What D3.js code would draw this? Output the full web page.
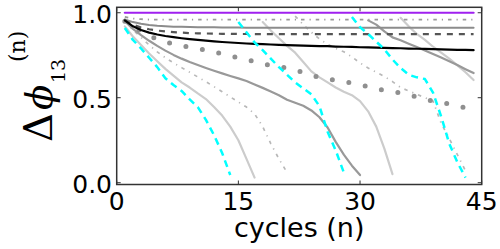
<!DOCTYPE html>
<html><head><meta charset="utf-8">
<script src="https://cdn.jsdelivr.net/npm/d3@7"></script>
<style>html,body{margin:0;padding:0;background:#fff;}svg{display:block}</style>
</head><body><svg id="c" width="500" height="249"></svg>
<script>
// ---- data ----
const xTicks = [0, 15, 30, 45];
const xTickLabels = ["0", "15", "30", "45"];
const yTicks = [0, 0.5, 1.0];
const yTickLabels = ["0.0", "0.5", "1.0"];

// each series: first cycle index + values at consecutive integer cycles
const purpleStart = 1;
const purpleVals = [1,1,1,1,1,1,1,1,1,1,1,1,1,1,1,1,1,1,1,1,1,1,1,1,1,1,1,1,1,1,1,1,1,1,1,1,1,1,1,1,1,1,1,1];
const dashDotStart = 1;
const dashDotVals = [0.975,0.966,0.962,0.96,0.96,0.959,0.959,0.959,0.959,0.959,0.959,0.959,0.959,0.959,0.959,0.959,0.959,0.959,0.959,0.959,0.959,0.959,0.959,0.959,0.959,0.959,0.959,0.959,0.959,0.959,0.959,0.959,0.959,0.959,0.959,0.959,0.959,0.959,0.959,0.959,0.959,0.959,0.959,0.959];
const graySolidStart = 1;
const graySolidVals = [0.96,0.945,0.935,0.928,0.923,0.92,0.918,0.917,0.916,0.915,0.914,0.914,0.913,0.913,0.913,0.912,0.912,0.912,0.912,0.912,0.912,0.912,0.912,0.912,0.912,0.912,0.912,0.912,0.912,0.912,0.912,0.912,0.912,0.912,0.912,0.912,0.912,0.912,0.912,0.912,0.912,0.912,0.912,0.912];
const darkDashStart = 1;
const darkDashVals = [0.955,0.93,0.913,0.903,0.895,0.89,0.886,0.883,0.88,0.879,0.878,0.877,0.876,0.876,0.875,0.875,0.874,0.874,0.874,0.874,0.874,0.874,0.874,0.874,0.874,0.874,0.874,0.874,0.874,0.874,0.874,0.874,0.874,0.874,0.874,0.874,0.874,0.874,0.874,0.874,0.874,0.874,0.874,0.874];
const blackStart = 1;
const blackVals = [0.955,0.92,0.898,0.883,0.872,0.863,0.856,0.85,0.845,0.84,0.836,0.832,0.828,0.825,0.822,0.819,0.817,0.815,0.813,0.811,0.81,0.808,0.807,0.805,0.804,0.803,0.801,0.8,0.799,0.797,0.796,0.795,0.793,0.792,0.791,0.789,0.788,0.787,0.786,0.784,0.783,0.782,0.781,0.78];
const bigDotStart = 1;
const bigDotVals = [0.95,0.92,0.89,0.865,0.845,0.828,0.815,0.805,0.797,0.788,0.78,0.77,0.758,0.745,0.735,0.725,0.712,0.7,0.69,0.683,0.675,0.662,0.648,0.633,0.62,0.61,0.603,0.595,0.587,0.577,0.565,0.552,0.543,0.535,0.528,0.516,0.505,0.492,0.48,0.472,0.463,0.453,0.44,0.418];
const midGrayAStart = 1;
const midGrayAVals = [0.95,0.905,0.868,0.835,0.805,0.777,0.752,0.73,0.71,0.692,0.675,0.659,0.643,0.628,0.614,0.598,0.578,0.558,0.537,0.515,0.488,0.47,0.453,0.425,0.385,0.325,0.24,0.165,0.1,0.045];
const midGrayBStart = 31;
const midGrayBVals = [0.955,0.93,0.89,0.855,0.838,0.818,0.798,0.778,0.757,0.737,0.715,0.692,0.668,0.645];
const lightAStart = 1;
const lightAVals = [0.92,0.86,0.81,0.76,0.715,0.67,0.63,0.59,0.56,0.525,0.492,0.445,0.395,0.33,0.25,0.14,0.03];
const lightBStart = 18;
const lightBVals = [0.945,0.895,0.85,0.805,0.765,0.71,0.655,0.62,0.59,0.56,0.535,0.515,0.48,0.42,0.33,0.2,0.05];
const lightCStart = 35;
const lightCVals = [0.97,0.92,0.875,0.84,0.8,0.765,0.73,0.69,0.65,0.604];
const lightDashDotAStart = 1;
const lightDashDotAVals = [0.95,0.9,0.855,0.81,0.77,0.735,0.705,0.677,0.65,0.622,0.594,0.565,0.535,0.505,0.475,0.445,0.405,0.33,0.23,0.14,0.06];
const lightDashDotBStart = 22;
const lightDashDotBVals = [0.98,0.93,0.885,0.845,0.815,0.79,0.77,0.74,0.705,0.675,0.65,0.625,0.595,0.56,0.54,0.52,0.5,0.48,0.35,0.26,0.165,0.07];
const cyanAStart = 1;
const cyanAVals = [0.91,0.84,0.79,0.735,0.68,0.615,0.575,0.54,0.49,0.445,0.37,0.28,0.175,0.045];
const cyanBStart = 15;
const cyanBVals = [0.945,0.885,0.825,0.78,0.73,0.68,0.635,0.59,0.555,0.52,0.45,0.3,0.19,0.06];
const cyanCStart = 29;
const cyanCVals = [0.975,0.915,0.875,0.83,0.785,0.725,0.675,0.635,0.62,0.61,0.53,0.39,0.23,0.12,0.03];

// ---- drawing ----
const svg = d3.select('#c');
const x = d3.scaleLinear().domain([0, 45]).range([116.7, 481.7]);
const y = d3.scaleLinear().domain([-0.0106, 1.032]).range([184.5, 7.3]);
const [x0, x1] = x.range();
const [yb, yt] = y.range();

svg.append('defs').append('clipPath').attr('id', 'clip')
  .append('rect').attr('x', x0).attr('y', yt).attr('width', x1 - x0).attr('height', yb - yt);

const line = d3.line().x(d => x(d[0])).y(d => y(d[1]));
const pts = (start, vals) => vals.map((v, i) => [start + i, v]);
const plot = svg.append('g').attr('clip-path', 'url(#clip)');

function draw(start, vals, color, width, dash, cap) {
  plot.append('path').datum(pts(start, vals))
    .attr('d', line).attr('fill', 'none')
    .attr('stroke', color).attr('stroke-width', width)
    .attr('stroke-dasharray', dash || null)
    .attr('stroke-linecap', cap || 'butt')
    .attr('stroke-linejoin', 'round');
}

draw(lightDashDotAStart, lightDashDotAVals, '#b8b8b8', 1.7, '3.5,5,1.2,5');
draw(lightDashDotBStart, lightDashDotBVals, '#b8b8b8', 1.7, '3.5,5,1.2,5');
draw(lightAStart, lightAVals, '#cccccc', 2.2, null, 'round');
draw(lightBStart, lightBVals, '#cccccc', 2.2, null, 'round');
draw(lightCStart, lightCVals, '#cccccc', 2.2, null, 'round');
draw(midGrayAStart, midGrayAVals, '#999999', 2.2, null, 'round');
draw(midGrayBStart, midGrayBVals, '#999999', 2.2, null, 'round');
draw(bigDotStart, bigDotVals, '#8f8f8f', 5, '0,16.7', 'round');
draw(dashDotStart, dashDotVals, '#999999', 1.8, '3.5,5,1.2,5');
draw(graySolidStart, graySolidVals, '#8c8c8c', 2, null, 'round');
draw(darkDashStart, darkDashVals, '#555555', 2.2, '6,6');
draw(blackStart, blackVals, '#000000', 2.2, null, 'round');
draw(cyanAStart, cyanAVals, '#00ffff', 2.5, '7,5');
draw(cyanBStart, cyanBVals, '#00ffff', 2.5, '7,5');
draw(cyanCStart, cyanCVals, '#00ffff', 2.5, '7,5');
draw(purpleStart, purpleVals, '#a020f0', 2.2, null, 'round');

// frame
svg.append('rect').attr('x', x0).attr('y', yt).attr('width', x1 - x0).attr('height', yb - yt)
  .attr('fill', 'none').attr('stroke', '#333').attr('stroke-width', 1.5);

// ticks (inside, mirrored)
const tk = svg.append('g').attr('stroke', '#333').attr('stroke-width', 1);
xTicks.forEach(t => {
  tk.append('line').attr('x1', x(t)).attr('x2', x(t)).attr('y1', yb).attr('y2', yb - 4);
  tk.append('line').attr('x1', x(t)).attr('x2', x(t)).attr('y1', yt).attr('y2', yt + 4);
});
yTicks.forEach(t => {
  tk.append('line').attr('x1', x0).attr('x2', x0 + 4).attr('y1', y(t)).attr('y2', y(t));
  tk.append('line').attr('x1', x1).attr('x2', x1 - 4).attr('y1', y(t)).attr('y2', y(t));
});

const font = 'DejaVu Sans, sans-serif';
svg.append('g').selectAll('text').data(xTicks).join('text')
  .attr('x', d => x(d)).attr('y', 210).attr('text-anchor', 'middle')
  .attr('font-family', font).attr('font-size', 25).attr('fill', '#000')
  .text((d, i) => xTickLabels[i]);
svg.append('g').selectAll('text').data(yTicks).join('text')
  .attr('x', 112).attr('y', d => y(d) + 10).attr('text-anchor', 'end')
  .attr('font-family', font).attr('font-size', 25).attr('fill', '#000')
  .text((d, i) => yTickLabels[i]);

svg.append('text').attr('x', (x0 + x1) / 2).attr('y', 237).attr('text-anchor', 'middle')
  .attr('font-family', font).attr('font-size', 27).attr('fill', '#000').text('cycles (n)');

// y label: Δϕ_13^(n)
const yl = svg.append('g').attr('transform', 'translate(52,142) rotate(-90)')
  .attr('font-family', 'DejaVu Serif, serif').attr('fill', '#000');
yl.append('text').attr('x', 0).attr('y', 0).attr('font-size', 40).text('Δ');
yl.append('text').attr('x', 32).attr('y', 0).attr('font-size', 37).attr('font-style', 'italic').text('ϕ');
yl.append('text').attr('x', 59).attr('y', 13).attr('font-size', 19).text('13');
yl.append('text').attr('x', 80).attr('y', -27).attr('font-size', 22).text('(n)');
</script></body></html>
